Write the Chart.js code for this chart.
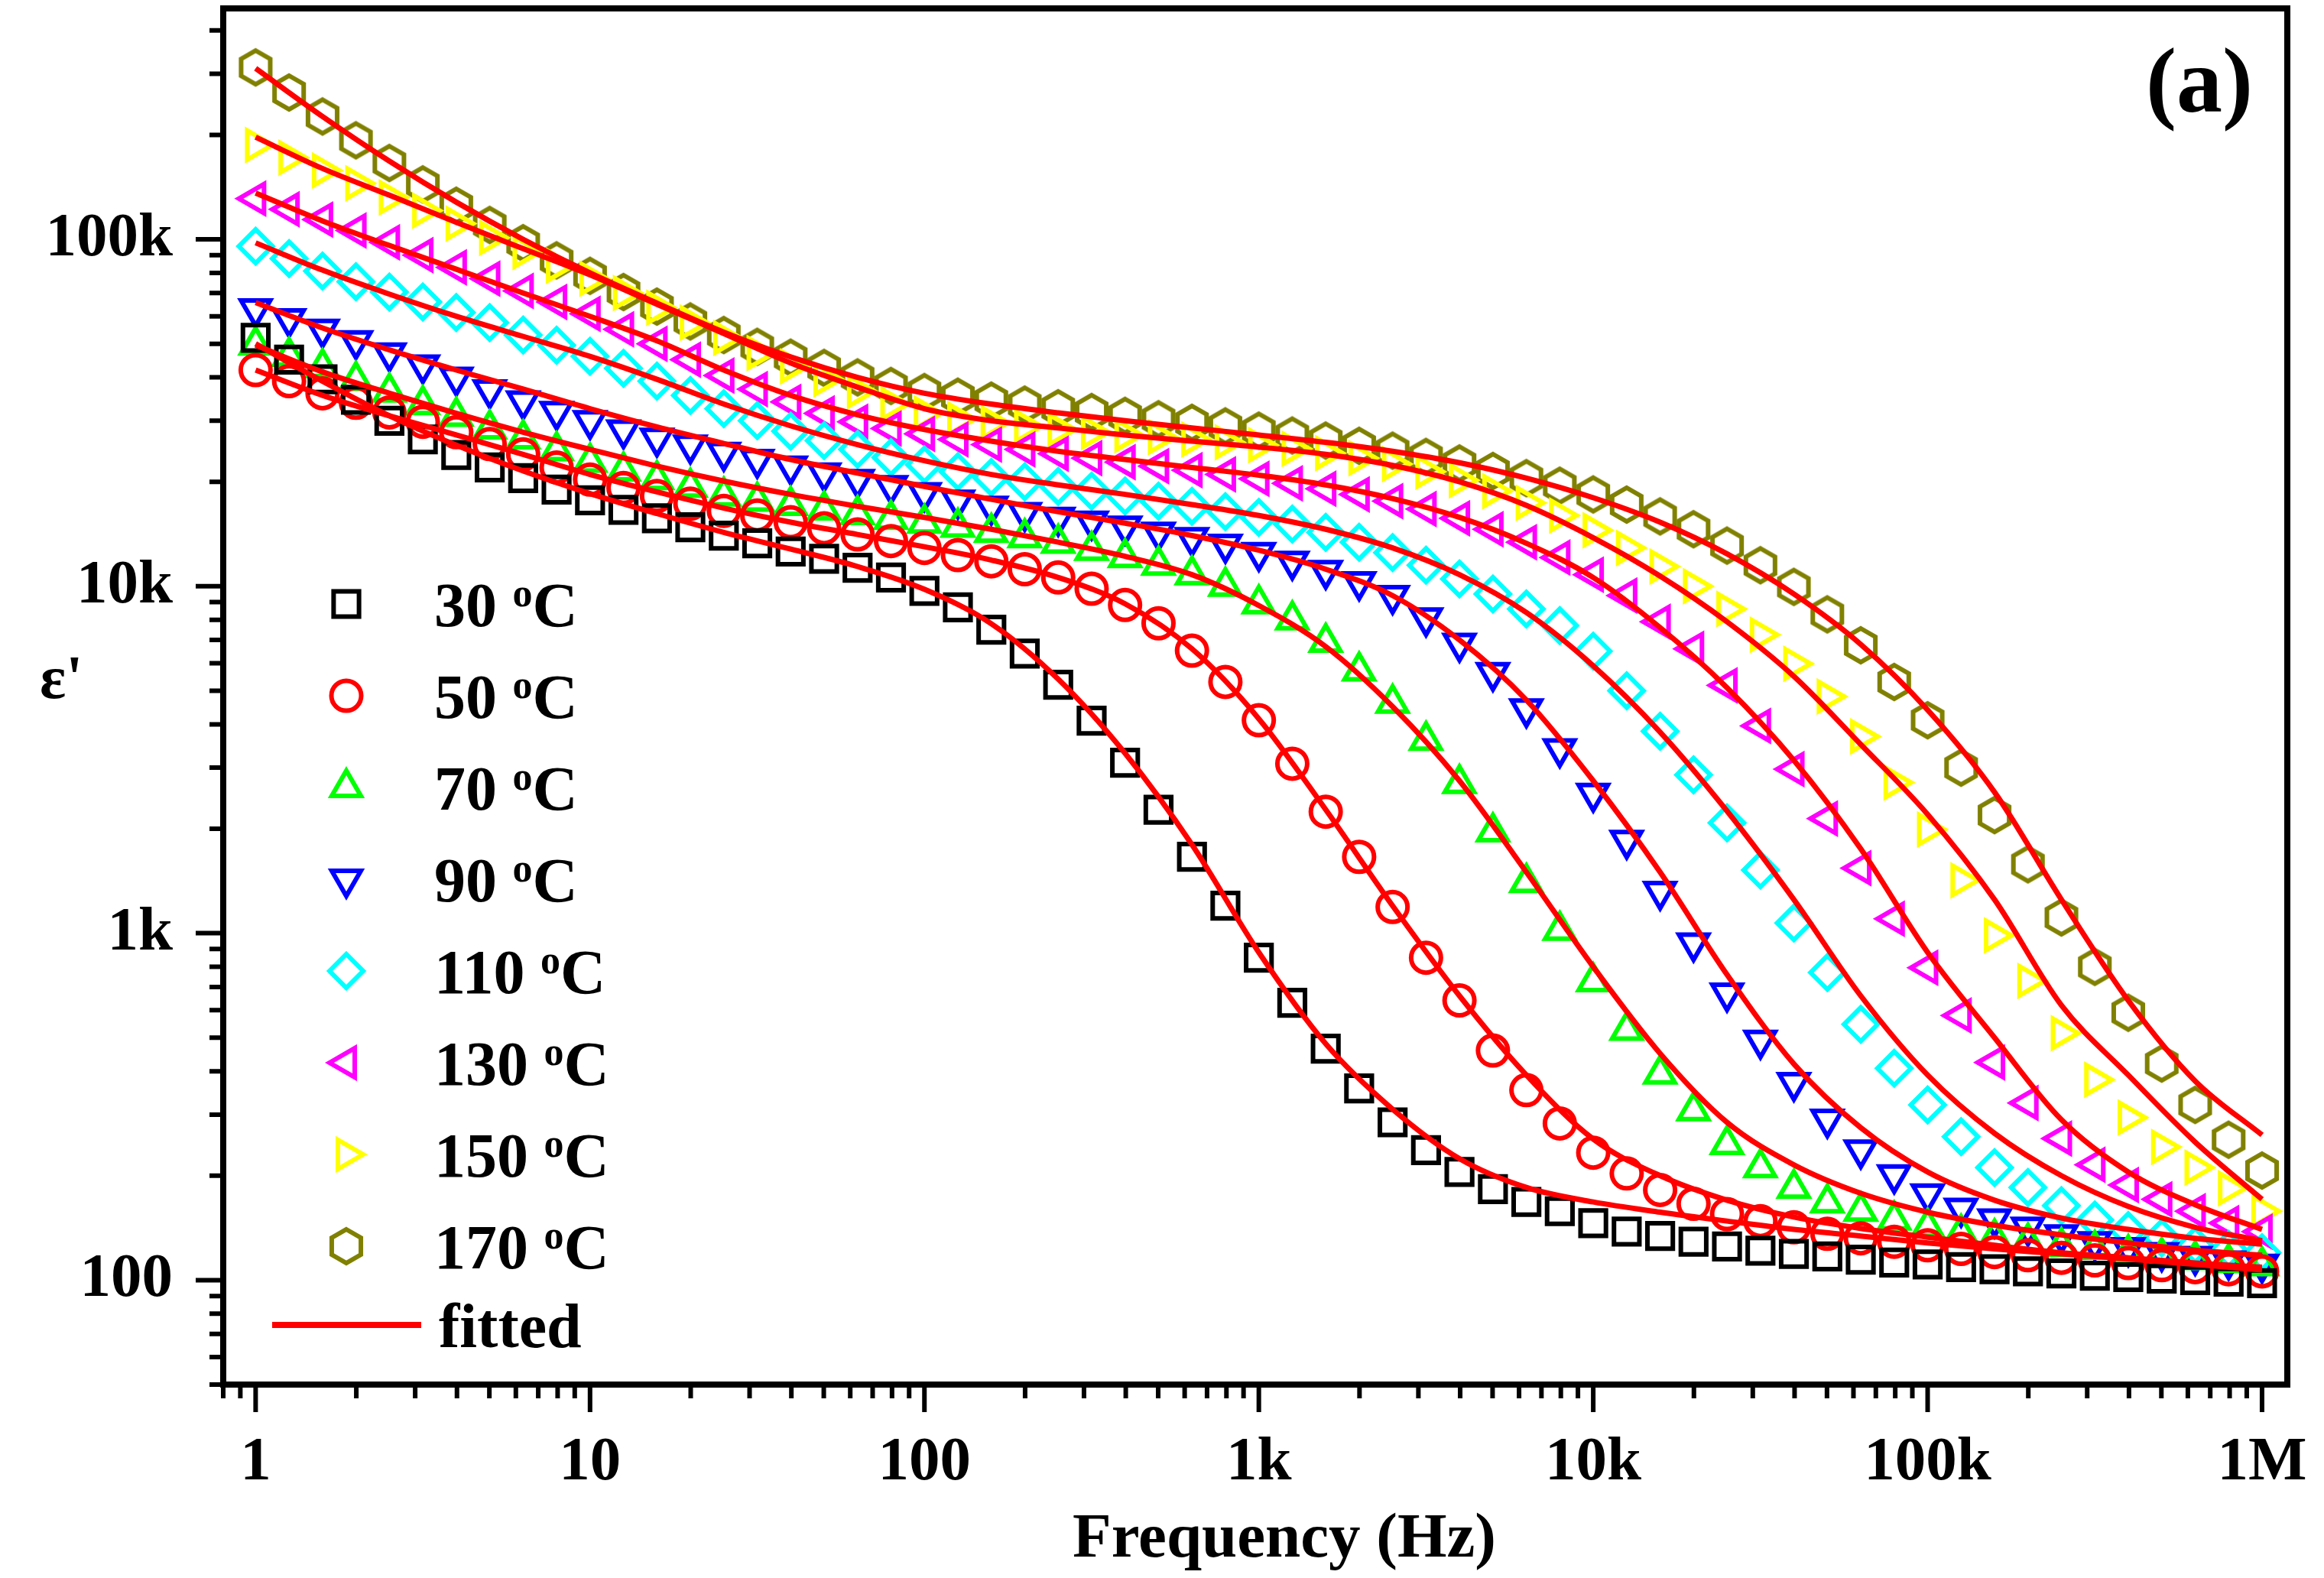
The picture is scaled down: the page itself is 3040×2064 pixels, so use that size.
<!DOCTYPE html>
<html>
<head>
<meta charset="utf-8">
<title>Dielectric constant vs frequency</title>
<script src="https://cdn.jsdelivr.net/npm/chart.js@4.4.1/dist/chart.umd.min.js"></script>
<style>
  html, body { margin: 0; padding: 0; background: #fff; }
  #chartBox { width: 3040px; height: 2064px; }
</style>
</head>
<body>
<div id="chartBox"><canvas id="epsChart" width="3040" height="2064"></canvas></div>
<script>
// Measured frequencies (Hz), 10 points per decade
const freq = [1, 1.259, 1.585, 1.995, 2.512, 3.162, 3.981, 5.012, 6.31, 7.943,
  10, 12.59, 15.85, 19.95, 25.12, 31.62, 39.81, 50.12, 63.1, 79.43,
  100, 125.9, 158.5, 199.5, 251.2, 316.2, 398.1, 501.2, 631, 794.3,
  1000, 1259, 1585, 1995, 2512, 3162, 3981, 5012, 6310, 7943,
  10000, 12590, 15850, 19950, 25120, 31620, 39810, 50120, 63100, 79430,
  100000, 125900, 158500, 199500, 251200, 316200, 398100, 501200, 631000, 794300, 1000000];

// Frequencies used for the fitted curves
const fitFreq = [1, 1.585, 2.512, 3.981, 6.31, 10, 15.85, 25.12, 39.81, 63.1,
  100, 158.5, 251.2, 398.1, 631, 1000, 1585, 2512, 3981, 6310,
  10000, 15850, 25120, 39810, 63100, 100000, 158500, 251200, 398100, 631000, 1000000];

// Measured eps' per temperature
const eps30 = [52000, 45000, 39500, 34500, 30000, 26500, 23900, 22000, 20500, 19000,
  17700, 16600, 15700, 14800, 14000, 13300, 12600, 12000, 11300, 10600,
  9700, 8700, 7500, 6400, 5200, 4100, 3100, 2270, 1660, 1200,
  850, 630, 465, 357, 285, 237, 205, 183, 168, 158,
  146, 138, 134, 129, 125, 121.6, 119, 117, 114.6, 112.4,
  111, 109, 107.5, 106, 104.5, 103, 102, 101, 100, 99, 98];
const eps50 = [42000, 39000, 36000, 33800, 31700, 29800, 27800, 25700, 24000, 22000,
  20300, 19200, 18200, 17300, 16500, 16000, 15300, 14700, 14100, 13500,
  12900, 12300, 11800, 11200, 10600, 9840, 8830, 7820, 6520, 5300,
  4110, 3080, 2240, 1660, 1190, 850, 640, 459, 353, 283,
  233, 203, 182, 166, 155, 148, 142, 136, 132, 129,
  126, 123, 120.5, 118, 116, 114, 112, 110.5, 109, 107.5, 106];
const eps70 = [49600, 46000, 42700, 39200, 36300, 33400, 30900, 28400, 26600, 24600,
  22800, 21500, 20300, 19300, 18200, 17600, 17100, 16600, 16100, 15600,
  15200, 14800, 14300, 13800, 13300, 12700, 12100, 11500, 10800, 10000,
  8900, 8000, 6900, 5700, 4600, 3600, 2700, 1960, 1400, 1020,
  725, 525, 393, 308, 246, 211, 184, 167, 158, 149,
  142, 136.6, 132.5, 128.8, 125, 122.7, 119.2, 116.9, 114.6, 112.4, 110];
const eps90 = [63000, 59000, 55000, 51000, 47000, 43400, 40000, 36800, 34200, 31900,
  30000, 28200, 26700, 25500, 24300, 23200, 22200, 21200, 20300, 19500,
  18600, 17700, 17000, 16300, 15800, 15400, 14900, 14300, 13800, 13200,
  12500, 11800, 11100, 10300, 9400, 8100, 6850, 5640, 4430, 3400,
  2530, 1850, 1320, 937, 672, 491, 371, 291, 237, 201,
  177, 161, 150, 142, 135, 129, 124, 120, 117, 113.5, 111];
const eps110 = [95500, 88000, 81000, 75500, 70500, 66000, 61500, 57500, 53000, 49500,
  46000, 42500, 39000, 35500, 32500, 30000, 28000, 26300, 24800, 23500,
  22400, 21400, 20600, 20000, 19400, 18800, 18200, 17600, 17000, 16400,
  15800, 15100, 14300, 13400, 12500, 11500, 10500, 9500, 8600, 7700,
  6500, 5000, 3820, 2860, 2080, 1520, 1070, 770, 546, 408,
  320, 259, 211, 185, 164, 149, 139, 132.5, 126, 122.6, 120];
const eps130 = [131000, 122000, 114000, 106000, 98000, 90000, 83000, 77000, 71000, 66000,
  61000, 55000, 50000, 45000, 40500, 37000, 34000, 31500, 29800, 28500,
  27500, 26500, 25600, 24800, 24100, 23400, 22800, 22200, 21600, 21000,
  20400, 19800, 19100, 18400, 17600, 16700, 15700, 14600, 13400, 12100,
  10800, 9400, 7900, 6600, 5180, 3960, 2970, 2140, 1540, 1100,
  795, 579, 424, 324, 256, 215, 188, 171, 158, 146, 138];
const eps150 = [187000, 172000, 158000, 145000, 132000, 121000, 111000, 101000, 92000, 84000,
  77000, 70000, 63500, 57500, 52000, 47000, 43000, 39500, 36500, 33500,
  31500, 30300, 29600, 28900, 28300, 27800, 27300, 26900, 26500, 26000,
  25500, 24900, 24200, 23400, 22500, 21400, 20200, 18800, 17400, 16000,
  14500, 12900, 11400, 10000, 8600, 7250, 5980, 4810, 3690, 2720,
  1990, 1420, 985, 729, 515, 378, 294, 242, 211, 184, 158];
const eps170 = [313000, 265000, 226000, 193000, 166000, 144000, 125000, 110000, 97500, 87000,
  78500, 70500, 64000, 58000, 53000, 49000, 45600, 42600, 40000, 37800,
  36300, 35200, 34300, 33400, 32600, 31800, 31000, 30300, 29600, 28900,
  28100, 27200, 26300, 25400, 24600, 23600, 22600, 21500, 20500, 19500,
  18400, 17200, 15900, 14600, 13100, 11500, 9960, 8300, 6760, 5300,
  4110, 3000, 2190, 1580, 1110, 800, 590, 421, 320, 254, 207];

// Fitted eps' per temperature (at fitFreq)
const fit30 = [50000, 39000, 31000, 25500, 21500, 18500, 16200, 14300, 12800, 11400,
  9800, 7800, 5400, 3300, 1800, 880, 480, 311, 224, 185,
  168, 157, 148, 140, 134, 128, 123, 119, 115, 111, 107];
const fit50 = [42000, 35500, 31000, 27300, 24000, 21000, 18700, 16800, 15300, 14100,
  13000, 11900, 10600, 8900, 6600, 4150, 2270, 1200, 660, 390,
  255, 200, 170, 152, 141, 133, 126, 120, 116, 112, 109];
const fit70 = [49500, 41500, 36000, 31500, 27800, 24800, 22200, 20100, 18400, 17000,
  15800, 14600, 13400, 12200, 10800, 8800, 6700, 4500, 2750, 1500,
  800, 450, 285, 215, 178, 157, 144, 135, 128, 122, 118];
const fit90 = [65700, 55500, 48000, 42000, 37000, 32500, 28800, 25800, 23200, 21200,
  19400, 17800, 16400, 15200, 14000, 12700, 11200, 9400, 7000, 4700,
  2750, 1500, 760, 420, 275, 205, 170, 151, 140, 132, 127];
const fit110 = [97700, 81500, 69500, 60000, 52500, 46000, 39500, 33500, 29000, 25600,
  23000, 21000, 19600, 18400, 17200, 16000, 14600, 12900, 10800, 8400,
  5900, 3800, 2250, 1250, 660, 390, 265, 200, 163, 142, 130];
const fit130 = [136000, 113000, 96000, 82000, 70000, 60000, 51000, 42000, 35500, 31200,
  28300, 26200, 24500, 23200, 22000, 20900, 19600, 17900, 15800, 13300,
  10600, 7600, 5100, 3150, 1750, 880, 500, 290, 205, 165, 140];
const fit150 = [197000, 160000, 134000, 112000, 94000, 79000, 65000, 53500, 44000, 37500,
  32500, 30000, 28600, 27300, 26200, 25200, 24000, 22300, 20000, 17100,
  13800, 10700, 7900, 5500, 3500, 2200, 1250, 620, 390, 250, 171];
const fit170 = [311000, 226000, 168000, 128000, 100000, 80000, 65500, 54000, 45800, 40000,
  36000, 33500, 31600, 30000, 28600, 27300, 26000, 24500, 22700, 20500,
  18000, 15300, 12400, 9500, 6800, 4400, 2550, 1250, 640, 375, 262];

// Axis ticks
const xTickValues = [1, 10, 100, 1000, 10000, 100000, 1000000];
const xTickLabels = ['1', '10', '100', '1k', '10k', '100k', '1M'];
const yTickValues = [100, 1000, 10000, 100000];
const yTickLabels = ['100', '1k', '10k', '100k'];

Chart.defaults.font.family = 'Liberation Serif';
Chart.defaults.color = '#000';

// Chart.js has no hexagon point style, so draw one on a small canvas
function makeHexagon(color) {
  const c = document.createElement('canvas');
  c.width = 56;
  c.height = 56;
  const g = c.getContext('2d');
  g.strokeStyle = color;
  g.lineWidth = 6;
  g.beginPath();
  for (let i = 0; i < 6; i++) {
    const a = Math.PI / 180 * (60 * i - 90);
    const px = 28 + 22 * Math.cos(a);
    const py = 28 + 22 * Math.sin(a);
    if (i === 0) g.moveTo(px, py); else g.lineTo(px, py);
  }
  g.closePath();
  g.stroke();
  return c;
}

const series = [
  { label: '30', data: eps30, fit: fit30, color: '#000000', style: 'rect', rotation: 0, radius: 23.5 },
  { label: '50', data: eps50, fit: fit50, color: '#ff0000', style: 'circle', rotation: 0, radius: 19.5 },
  { label: '70', data: eps70, fit: fit70, color: '#00ff00', style: 'triangle', rotation: 0, radius: 22 },
  { label: '90', data: eps90, fit: fit90, color: '#0000ff', style: 'triangle', rotation: 180, radius: 22 },
  { label: '110', data: eps110, fit: fit110, color: '#00ffff', style: 'rectRot', rotation: 0, radius: 22 },
  { label: '130', data: eps130, fit: fit130, color: '#ff00ff', style: 'triangle', rotation: 270, radius: 22 },
  { label: '150', data: eps150, fit: fit150, color: '#ffff00', style: 'triangle', rotation: 90, radius: 22 },
  { label: '170', data: eps170, fit: fit170, color: '#808000', style: makeHexagon('#808000'), rotation: 0, radius: 22 }
];

// Build datasets: markers for the data, red line for each fit
const datasets = [];
series.forEach(s => {
  datasets.push({
    label: s.label + ' fitted',
    data: fitFreq.map((f, i) => ({ x: f, y: s.fit[i] })),
    borderColor: '#ff0000',
    borderWidth: 7,
    pointRadius: 0,
    showLine: true,
    cubicInterpolationMode: 'monotone',
    fill: false,
    clip: false,
    order: 0
  });
  datasets.push({
    label: s.label + ' oC',
    data: freq.map((f, i) => ({ x: f, y: s.data[i] })),
    showLine: false,
    pointStyle: s.style,
    pointRotation: s.rotation,
    pointRadius: s.radius,
    pointBorderWidth: 6,
    pointBorderColor: s.color,
    pointBackgroundColor: 'rgba(0,0,0,0)',
    clip: false,
    order: 1
  });
});

// Frame, tick marks, legend and extra texts
const decorPlugin = {
  id: 'decor',
  afterDraw(chart) {
    const ctx = chart.ctx;
    const area = chart.chartArea;
    const xs = chart.scales.x;
    const ys = chart.scales.y;
    ctx.save();
    ctx.strokeStyle = '#000';
    ctx.lineWidth = 8;
    ctx.strokeRect(area.left, area.top, area.right - area.left, area.bottom - area.top);

    // major and minor ticks, outside the frame
    ctx.lineWidth = 6;
    ctx.beginPath();
    for (let e = -1; e <= 6; e++) {
      for (let m = 1; m <= 9; m++) {
        const v = m * Math.pow(10, e);
        if (v < xs.min || v > xs.max) continue;
        const px = xs.getPixelForValue(v);
        ctx.moveTo(px, area.bottom);
        ctx.lineTo(px, area.bottom + (m === 1 ? 36 : 18));
      }
    }
    for (let e = 1; e <= 5; e++) {
      for (let m = 1; m <= 9; m++) {
        const v = m * Math.pow(10, e);
        if (v < ys.min || v > ys.max) continue;
        const py = ys.getPixelForValue(v);
        ctx.moveTo(area.left, py);
        ctx.lineTo(area.left - (m === 1 ? 36 : 18), py);
      }
    }
    ctx.stroke();

    // legend
    ctx.fillStyle = '#000';
    ctx.textBaseline = 'alphabetic';
    series.forEach((s, i) => {
      const y = 790 + 120 * i;
      ctx.strokeStyle = s.color;
      ctx.fillStyle = 'rgba(0,0,0,0)';
      ctx.lineWidth = 6;
      Chart.helpers.drawPoint(ctx, { pointStyle: s.style, rotation: s.rotation, radius: s.radius, borderWidth: 6 }, 453, y);
      ctx.fillStyle = '#000';
      const base = y + 29;
      ctx.font = 'bold 82px "Liberation Serif"';
      ctx.fillText(s.label + ' ', 568, base);
      let tx = 568 + ctx.measureText(s.label + ' ').width;
      ctx.font = 'bold 52px "Liberation Serif"';
      ctx.fillText('o', tx, base - 26);
      tx += ctx.measureText('o').width;
      ctx.font = 'bold 82px "Liberation Serif"';
      ctx.fillText('C', tx, base);
    });
    ctx.strokeStyle = '#ff0000';
    ctx.lineWidth = 8;
    ctx.beginPath();
    ctx.moveTo(356, 1733);
    ctx.lineTo(551, 1733);
    ctx.stroke();
    ctx.font = 'bold 82px "Liberation Serif"';
    ctx.fillText('fitted', 574, 1762);

    // axis titles and panel label
    ctx.font = 'bold 80px "Liberation Serif"';
    ctx.textAlign = 'left';
    ctx.fillText("\u03b5'", 52, 913);
    ctx.font = 'bold 83px "Liberation Serif"';
    ctx.textAlign = 'center';
    ctx.fillText('Frequency (Hz)', 1680, 2036);
    ctx.font = 'bold 120px "Liberation Serif"';
    ctx.textAlign = 'right';
    ctx.fillText('(a)', 2947, 146);
    ctx.restore();
  }
};

const epsChart = new Chart(document.getElementById('epsChart'), {
  type: 'line',
  data: { datasets: datasets },
  options: {
    responsive: false,
    animation: false,
    devicePixelRatio: 1,
    events: [],
    layout: { autoPadding: false, padding: { left: 0, right: 48, top: 11, bottom: 0 } },
    plugins: {
      legend: { display: false },
      tooltip: { enabled: false }
    },
    scales: {
      x: {
        type: 'logarithmic',
        position: 'bottom',
        min: 0.8,
        max: 1190000,
        grid: { display: false },
        border: { display: false },
        ticks: {
          autoSkip: false,
          maxRotation: 0,
          padding: 46,
          color: '#000',
          font: { size: 81, weight: 'bold' },
          callback: (v, i) => xTickLabels[i]
        },
        afterBuildTicks: scale => { scale.ticks = xTickValues.map(v => ({ value: v })); },
        afterFit: scale => {
          scale.height = 253;
          scale.paddingLeft = 0;
          scale.paddingRight = 0;
        }
      },
      y: {
        type: 'logarithmic',
        position: 'left',
        min: 50,
        max: 463000,
        grid: { display: false },
        border: { display: false },
        ticks: {
          autoSkip: false,
          padding: 58,
          color: '#000',
          font: { size: 81, weight: 'bold' },
          callback: (v, i) => yTickLabels[i]
        },
        afterBuildTicks: scale => { scale.ticks = yTickValues.map(v => ({ value: v })); },
        afterFit: scale => {
          scale.width = 292;
          scale.paddingTop = 0;
          scale.paddingBottom = 0;
        }
      }
    }
  },
  plugins: [decorPlugin]
});
</script>
</body>
</html>
